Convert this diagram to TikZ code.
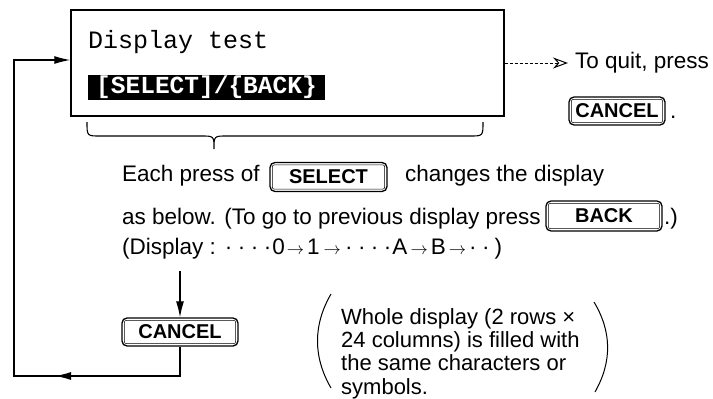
\documentclass[tikz,border=0pt]{standalone}
\usepackage{fontspec}
\setmainfont{Liberation Sans}
\newfontfamily\monofont{Liberation Mono}
\usetikzlibrary{arrows.meta,calc}
\newcommand\myarr{{\fontsize{19}{20}\selectfont$\rightarrow$}}
\newcommand\mydots{·\hspace{5.5pt}·\hspace{5.5pt}·\hspace{5.5pt}·}
\begin{document}
\begin{tikzpicture}[x=1pt,y=-1pt,
  txt/.style={anchor=base west, inner sep=0pt, font=\fontsize{22.5}{26}\selectfont},
  note/.style={anchor=base west, inner sep=0pt, font=\fontsize{22}{26}\selectfont},
  keybox/.style={draw, line width=1.3pt, rounded corners=5pt, inner sep=0pt, minimum height=28pt, font=\bfseries\fontsize{20}{23}\selectfont},
  keyinner/.style={line width=0.5pt, rounded corners=2pt},
  flow/.style={line width=1.2pt},
  tipL/.style={-{Latex[length=16pt,width=8pt]}},
]
\useasboundingbox (0,0) rectangle (713,399);
\node[draw, line width=1.4pt, minimum width=433pt, minimum height=106pt, inner sep=0pt] (box) at (287.5,63) {};
\node[anchor=base west, inner sep=0pt, font=\monofont\fontsize{25}{28}\selectfont] (dt) at (88,48) {Display test};
\node[anchor=west, fill=black, text=white, inner xsep=8pt, inner ysep=0pt, minimum height=25pt, font=\monofont\bfseries\fontsize{24.5}{28}\selectfont] (bar) at (88,87.5) {[SELECT]/\{BACK\}};
\draw[line width=1.1pt] (87,122) .. controls (87,136) .. (100,136) -- (201,136) .. controls (214,136) .. (214,149) .. controls (214,136) .. (227,136) -- (470,136) .. controls (483,136) .. (483,122);
\coordinate (qa) at (568,63);
\draw[line width=1pt, dash pattern=on 3pt off 2pt, -{Stealth[open, length=15pt, width=11pt, inset=5pt, line width=1pt]}] (box.east) -- (qa);
\node[txt] (quit) at (575,68) {To quit, press};
\node[keybox, minimum width=96pt] (kc1) at (617,111) {CANCEL};
\node[txt] (dot1) at (670,118) {.};
\node[txt] (l1a) at (122,181) {Each press of};
\node[keybox, minimum width=117pt, minimum height=29pt] (ks) at (328.5,177) {SELECT};
\node[txt] (l1b) at (405,181) {changes the display};
\node[txt] (l2a) at (122,224) {as below. (To go to previous display press};
\node[keybox, minimum width=116pt, minimum height=30pt] (kb) at (604,216) {BACK};
\node[txt] (l2b) at (664,224) {.)};
\node[txt] (l3) at (122,254) {(Display :\hspace{9pt}\mydots\hspace{1pt}0\hspace{2pt}\myarr\hspace{3pt}1\hspace{4pt}\myarr\hspace{4pt}\mydots\hspace{1pt}A\hspace{3pt}\myarr\hspace{3pt}B\hspace{3pt}\myarr\hspace{3pt}·\hspace{5.5pt}·\hspace{5pt})};
\coordinate (da) at (180,271);
\node[keybox, minimum width=116pt] (kc2) at (180,332) {CANCEL};
\draw[flow, tipL] (da) -- (kc2.north);
\coordinate (lb) at (180,376);
\coordinate (ll) at (14,376);
\coordinate (lt) at (14,60);
\draw[flow, tipL] (kc2.south) -- (lb) -- (ll) -- (lt) -- (box.west |- lt);
\coordinate (ma) at (76,376);
\coordinate (mb) at (55,376);
\draw[flow, tipL] (ma) -- (mb);
\foreach \k in {kc1,ks,kb,kc2} \draw[keyinner] ($(\k.south west)+(3,-3)$) rectangle ($(\k.north east)+(-3,3)$);
\node[note] (n1) at (341,324) {Whole display (2 rows ×};
\node[note] (n2) at (341,347) {24 columns) is filled with};
\node[note] (n3) at (341,370.5) {the same characters or};
\node[note] (n4) at (341,394) {symbols.};
\draw[line width=1pt] (331,294) .. controls (313,325) and (313,357) .. (331,388);
\draw[line width=1pt] (594,302) .. controls (612,332) and (612,362) .. (595,392);
\end{tikzpicture}
\end{document}
